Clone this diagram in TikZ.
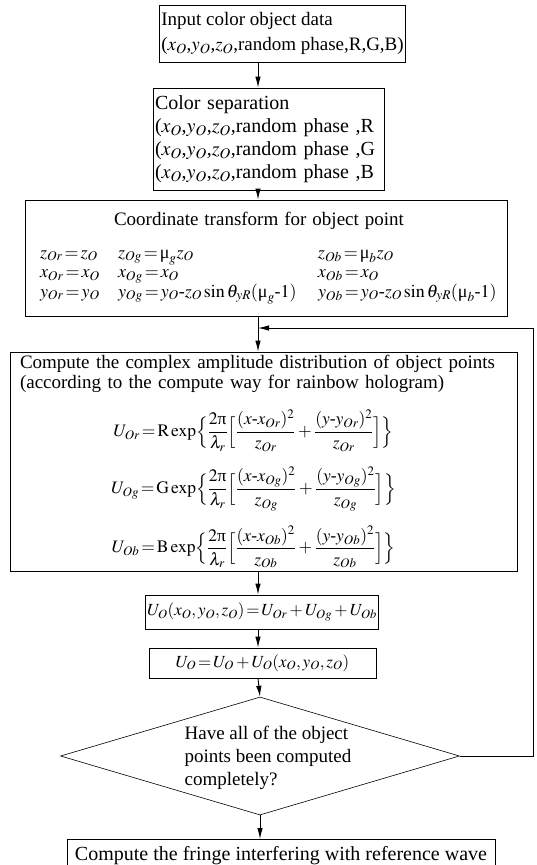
\documentclass[tikz,border=0pt]{standalone}
\usepackage{amsmath}
\usepackage{mathptmx}
\usepackage{fontspec}
\setmainfont{Liberation Serif}
\usetikzlibrary{shapes.geometric, positioning, arrows.meta}

\newcommand{\mug}{\mbox{μ}}
\newcommand{\piup}{\mbox{π}}
\newcommand{\hy}{\mbox{-}}
\newcommand{\fsz}[2]{\fontsize{#1}{#2}\selectfont}

\begin{document}
\begin{tikzpicture}[x=1pt, y=-1pt,
    font=\fsz{19}{23},
    block/.style={rectangle, draw, line width=0.9pt, inner sep=2pt, align=left},
    decision/.style={diamond, draw, line width=0.6pt, inner sep=0pt},
    arr/.style={-{Latex[length=11pt,width=5.5pt]}, line width=0.9pt}]
    \useasboundingbox (0,0) rectangle (537,865);
    \coordinate (spine) at (258,0);

    % Boxes
    \node[block, font=\fsz{19}{25}, minimum width=245pt, minimum height=57pt] (input) at (282.5,33.5)
        {Input color object data\\ ($x_O$,$y_O$,$z_O$,random phase,R,G,B)};
    \node[block, font=\fsz{20}{23}, minimum width=231pt, minimum height=102pt, text width=227pt] (sep) at (268.5,139)
        {Color separation\\
         ($x_O$,$y_O$,$z_O$,random phase ,R\\
         ($x_O$,$y_O$,$z_O$,random phase ,G\\
         ($x_O$,$y_O$,$z_O$,random phase ,B};
    \node[block, font=\fsz{18}{19.5}, minimum width=482pt, minimum height=116pt, text width=452pt] (trans) at (266,258)
        {\makebox[\linewidth][c]{\hspace*{-14pt}\fsz{19}{23}Coordinate transform for object point}\\[13.5pt]
         \makebox[78pt][l]{$z_{Or}\!=\!z_O$}\makebox[200pt][l]{$z_{Og}\!=\!\mug_g z_O$}\makebox[0pt][l]{$z_{Ob}\!=\!\mug_b z_O$}\\
         \makebox[78pt][l]{$x_{Or}\!=\!x_O$}\makebox[200pt][l]{$x_{Og}\!=\!x_O$}\makebox[0pt][l]{$x_{Ob}\!=\!x_O$}\\
         \makebox[78pt][l]{$y_{Or}\!=\!y_O$}\makebox[200pt][l]{$y_{Og}\!=\!y_O\hy z_O\sin\theta_{yR}(\mug_g\hy1)$}\makebox[0pt][l]{$y_{Ob}\!=\!y_O\hy z_O\sin\theta_{yR}(\mug_b\hy1)$}};
    \node[block, font=\fsz{19}{20.5}, minimum width=507pt, minimum height=219pt, text width=487pt] (amp) at (263.5,461.5)
        {\makebox[0pt][l]{Compute the complex amplitude distribution of object points}\\
         (according to the compute way for rainbow hologram)\\[16pt]
         \fsz{17.5}{20}%
         \makebox[\linewidth][c]{\hspace*{-20pt}$U_{Or}\!=\!\mathrm{R}\exp\Bigl\{\dfrac{2\piup}{\lambda_r}\Bigl[\dfrac{(x\hy x_{Or})^2}{z_{Or}}+\dfrac{(y\hy y_{Or})^2}{z_{Or}}\Bigr]\Bigr\}$}\\[14pt]
         \makebox[\linewidth][c]{\hspace*{-20pt}$U_{Og}\!=\!\mathrm{G}\exp\Bigl\{\dfrac{2\piup}{\lambda_r}\Bigl[\dfrac{(x\hy x_{Og})^2}{z_{Og}}+\dfrac{(y\hy y_{Og})^2}{z_{Og}}\Bigr]\Bigr\}$}\\[14pt]
         \makebox[\linewidth][c]{\hspace*{-20pt}$U_{Ob}\!=\!\mathrm{B}\exp\Bigl\{\dfrac{2\piup}{\lambda_r}\Bigl[\dfrac{(x\hy x_{Ob})^2}{z_{Ob}}+\dfrac{(y\hy y_{Ob})^2}{z_{Ob}}\Bigr]\Bigr\}$}};
    \node[block, font=\fsz{17}{20}, minimum width=232pt, minimum height=34pt, align=center] (sum) at (262,612)
        {$U_O(x_O,y_O,z_O)\!=\!U_{Or}+U_{Og}+U_{Ob}$};
    \node[block, font=\fsz{17}{20}, minimum width=227pt, minimum height=30pt, align=center] (acc) at (262.5,663)
        {$U_O\!=\!U_O+U_O(x_O,y_O,z_O)$};
    \node[decision, minimum width=399pt, minimum height=118pt,
        label={[align=left, xshift=8pt, yshift=-2pt]center:Have all of the object\\ points been computed\\ completely?}] (dec) at (260,756) {};
    \node[block, font=\fsz{20}{24}, minimum width=428pt, minimum height=32pt, align=center, anchor=north] (out) at (281,839)
        {Compute the fringe interfering with reference wave};

    % Connections
    \draw[arr] (input.south -| spine) -- (sep.north -| spine);
    \draw[arr] (sep.south -| spine) -- (trans.north -| spine);
    \draw[arr] (trans.south -| spine) -- (amp.north -| spine);
    \draw[arr] (amp.south -| spine) -- (sum.north -| spine);
    \draw[arr] (sum.south -| spine) -- (acc.north -| spine);
    \draw[arr] (acc.south -| spine) -- (dec.north);
    \draw[arr] (dec.south) -- (out.north -| dec.south);
    \coordinate (loop) at (533,328);
    \draw[arr] (dec.east) -| (loop) -- (loop -| spine);
\end{tikzpicture}
\end{document}
